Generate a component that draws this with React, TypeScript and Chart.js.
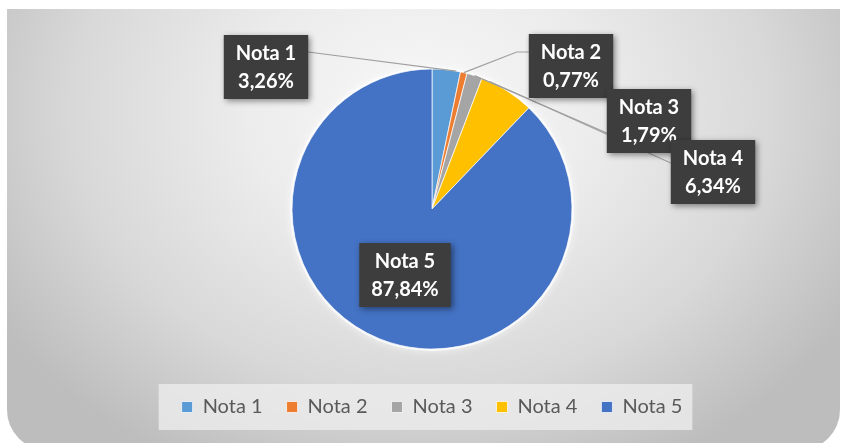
import React, { useEffect, useRef } from "react";
import { Chart, registerables } from "chart.js";

Chart.register(...registerables);

// ---- data ----
const categories = ["Nota 1", "Nota 2", "Nota 3", "Nota 4", "Nota 5"];
const percentages = [3.26, 0.77, 1.79, 6.34, 87.84];
const percentLabels = ["3,26%", "0,77%", "1,79%", "6,34%", "87,84%"];
const sliceColors = ["#5B9BD5", "#ED7D31", "#A5A5A5", "#FFC000", "#4472C4"];

// label box centre offsets from pie centre (px), leader anchor fraction inside slice, attach point on box
const labelDX = [-166, 139, 217, 281, -27];
const labelDY = [-142, -143, -88, -37, 66];
const anchorFrac = [0.85, 0.5, 0.5, 0.15, -1];
const attachSide = ["right", "left", "left", "left", "none"];
const attachDY = [-15, -14, 12, -9, 0];

const W = 843;
const H = 443;

const decorPlugin = {
  id: "decor",
  beforeDraw(chart: any) {
    const ctx = chart.ctx;
    ctx.save();
    ctx.fillStyle = "#ffffff";
    ctx.fillRect(0, 0, W, H);
    // panel
    const x0 = 7, y0 = 9, x1 = 840, y1 = 450, r = 40;
    ctx.beginPath();
    ctx.moveTo(x0, y0);
    ctx.lineTo(x1, y0);
    ctx.lineTo(x1, y1 - r);
    ctx.arcTo(x1, y1, x1 - r, y1, r);
    ctx.lineTo(x0 + r, y1);
    ctx.arcTo(x0, y1, x0, y1 - r, r);
    ctx.closePath();
    const g = ctx.createRadialGradient(0, 0, 0, 0, 0, 400);
    g.addColorStop(0, "#f8f8f8");
    g.addColorStop(0.35, "#ececec");
    g.addColorStop(0.7, "#d8d8d8");
    g.addColorStop(1, "#bdbdbd");
    ctx.save();
    ctx.clip();
    ctx.translate(421, 110);
    ctx.scale(1.25, 1);
    ctx.fillStyle = g;
    ctx.fillRect(-500, -200, 1000, 600);
    ctx.restore();

    // legend background
    const lg = chart.legend;
    if (lg && lg.legendHitBoxes && lg.legendHitBoxes.length) {
      const hb = lg.legendHitBoxes;
      const first = hb[0];
      const last = hb[hb.length - 1];
      const cy = first.top + first.height / 2;
      const lx = first.left - 23;
      const rx = last.left + last.width + 10;
      ctx.fillStyle = "rgba(236,236,236,0.8)";
      ctx.fillRect(lx, cy - 23, rx - lx, 46);
    }

    // soft halo around pie
    const meta = chart.getDatasetMeta(0);
    if (meta && meta.data.length) {
      const a = meta.data[0];
      ctx.beginPath();
      ctx.arc(a.x, a.y, a.outerRadius + 2, 0, Math.PI * 2);
      ctx.fillStyle = "rgba(255,255,255,0.7)";
      ctx.shadowColor = "rgba(255,255,255,0.9)";
      ctx.shadowBlur = 8;
      ctx.fill();
    }
    ctx.restore();
  },
  afterDatasetsDraw(chart: any) {
    const ctx = chart.ctx;
    const meta = chart.getDatasetMeta(0);
    if (!meta || !meta.data.length) return;
    const cx = meta.data[0].x;
    const cy = meta.data[0].y;
    ctx.save();
    ctx.font = "bold 20px Lato";
    const boxes: any[] = [];
    meta.data.forEach((arc: any, i: number) => {
      const w1 = ctx.measureText(categories[i]).width;
      const w2 = ctx.measureText(percentLabels[i]).width;
      const bw = Math.max(w1, w2) + 24;
      const bh = 64;
      const bx = cx + labelDX[i] - bw / 2;
      const by = cy + labelDY[i] - bh / 2;
      boxes.push({ bx, by, bw, bh, i });
    });
    // leader lines
    ctx.strokeStyle = "#a0a0a0";
    ctx.lineWidth = 1.2;
    meta.data.forEach((arc: any, i: number) => {
      if (anchorFrac[i] < 0) return;
      const ang = arc.startAngle + (arc.endAngle - arc.startAngle) * anchorFrac[i];
      const px = arc.x + Math.cos(ang) * arc.outerRadius;
      const py = arc.y + Math.sin(ang) * arc.outerRadius;
      const b = boxes[i];
      const ty = b.by + b.bh / 2 + attachDY[i];
      const tx = attachSide[i] === "right" ? b.bx + b.bw : b.bx;
      ctx.beginPath();
      ctx.moveTo(px, py);
      if (attachSide[i] === "left" && i === 1) {
        ctx.lineTo(tx - 12, ty);
      }
      ctx.lineTo(tx, ty);
      ctx.stroke();
    });
    // boxes
    boxes.forEach((b) => {
      ctx.save();
      ctx.shadowColor = "rgba(0,0,0,0.45)";
      ctx.shadowBlur = 6;
      ctx.shadowOffsetX = 2;
      ctx.shadowOffsetY = 2;
      ctx.fillStyle = "#3d3d3d";
      ctx.fillRect(b.bx, b.by, b.bw, b.bh);
      ctx.restore();
      ctx.fillStyle = "#ffffff";
      ctx.textAlign = "center";
      ctx.textBaseline = "middle";
      const mx = b.bx + b.bw / 2;
      const my = b.by + b.bh / 2;
      ctx.fillText(categories[b.i], mx, my - 13);
      ctx.fillText(percentLabels[b.i], mx, my + 15);
    });
    ctx.restore();
  },
};

export default function App() {
  const canvasRef = useRef<HTMLCanvasElement | null>(null);

  useEffect(() => {
    const canvas = canvasRef.current;
    if (!canvas) return;
    const chart = new Chart(canvas, {
      type: "pie",
      data: {
        labels: categories,
        datasets: [
          {
            data: percentages,
            backgroundColor: sliceColors,
            borderColor: "rgba(255,255,255,0.7)",
            borderWidth: 1,
          },
        ],
      },
      options: {
        responsive: false,
        animation: false,
        devicePixelRatio: 1,
        radius: 140,
        layout: { padding: { top: 45, bottom: 16, left: 21, right: 0 } },
        plugins: {
          tooltip: { enabled: false },
          title: { display: false },
          legend: {
            display: true,
            position: "bottom",
            labels: {
              boxWidth: 11,
              boxHeight: 11,
              padding: 24,
              color: "#595959",
              font: { family: "Lato", size: 20 },
            },
          },
        },
      } as any,
      plugins: [decorPlugin],
    });
    return () => chart.destroy();
  }, []);

  return (
    <div style={{ position: "absolute", left: 0, top: 0, width: W, height: H }}>
      <canvas ref={canvasRef} width={W} height={H} style={{ display: "block" }} />
    </div>
  );
}
